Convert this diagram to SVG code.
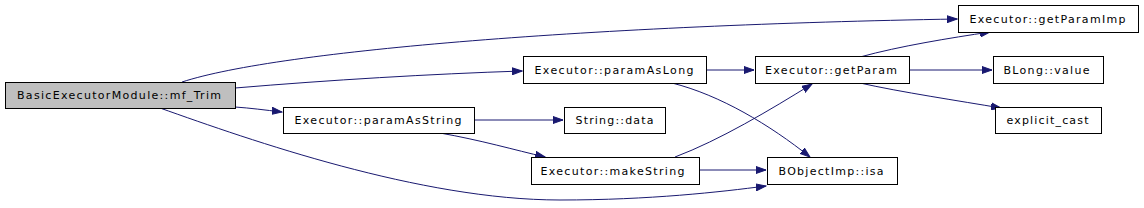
<svg xmlns="http://www.w3.org/2000/svg" width="1144" height="208" viewBox="0 0 1144 208">
<defs>
<marker id="ah" markerUnits="userSpaceOnUse" markerWidth="11" markerHeight="8" refX="10" refY="4" orient="auto">
<polygon points="0,0.5 10,4 0,7.5" fill="#191970" stroke="#191970"/>
</marker>
<style>
.n rect{fill:#ffffff;stroke:#000000;stroke-width:1}
.n.cur rect{fill:#bfbfbf}
.n text{font-family:"DejaVu Sans",sans-serif;font-size:11px;text-anchor:middle;fill:#000000}
.e path{fill:none;stroke:#191970;stroke-width:1;marker-end:url(#ah)}
</style>
</defs>
<rect width="1144" height="208" fill="#ffffff"/>
<g id="edges" class="e">
<path d="M182,82 C280,50 600,25 957,19"/>
<path d="M235,88 C330,80 430,74 522,71"/>
<path d="M235,107 C250,108 265,110 282,112"/>
<path d="M160,108 C250,140 420,200 560,200 C650,200 720,192 766,186"/>
<path d="M474,120 L563,120"/>
<path d="M440,133 C480,140 515,150 545,157"/>
<path d="M707,70 L754,70"/>
<path d="M672,83 C720,95 770,125 810,157"/>
<path d="M675,157 C720,140 770,110 812,84"/>
<path d="M699,170 L766,170"/>
<path d="M860,57 C900,46 950,38 990,32"/>
<path d="M909,70 L992,70"/>
<path d="M860,83 C900,92 960,101 1001,108"/>
</g>
<g id="n_mf_Trim" class="n cur"><rect x="5.5" y="82.5" width="230" height="26"/><text x="119" y="99" textLength="204" lengthAdjust="spacing">BasicExecutorModule::mf_Trim</text></g>
<g id="n_paramAsString" class="n"><rect x="283.5" y="107.5" width="191" height="26"/><text x="378" y="124" textLength="167" lengthAdjust="spacing">Executor::paramAsString</text></g>
<g id="n_paramAsLong" class="n"><rect x="523.5" y="56.5" width="183" height="27"/><text x="614" y="74" textLength="159" lengthAdjust="spacing">Executor::paramAsLong</text></g>
<g id="n_String_data" class="n"><rect x="564.5" y="107.5" width="101" height="26"/><text x="614.5" y="124" textLength="78" lengthAdjust="spacing">String::data</text></g>
<g id="n_makeString" class="n"><rect x="531.5" y="157.5" width="168" height="27"/><text x="612.5" y="175" textLength="144" lengthAdjust="spacing">Executor::makeString</text></g>
<g id="n_getParamImp" class="n"><rect x="958.5" y="5.5" width="180" height="27"/><text x="1047.5" y="23" textLength="156" lengthAdjust="spacing">Executor::getParamImp</text></g>
<g id="n_getParam" class="n"><rect x="755.5" y="56.5" width="154" height="27"/><text x="831" y="74" textLength="132" lengthAdjust="spacing">Executor::getParam</text></g>
<g id="n_BLong_value" class="n"><rect x="993.5" y="56.5" width="110" height="27"/><text x="1046.5" y="74" textLength="86" lengthAdjust="spacing">BLong::value</text></g>
<g id="n_explicit_cast" class="n"><rect x="995.5" y="107.5" width="106" height="26"/><text x="1047.5" y="124" textLength="82" lengthAdjust="spacing">explicit_cast</text></g>
<g id="n_isa" class="n"><rect x="767.5" y="157.5" width="130" height="27"/><text x="831" y="175" textLength="105" lengthAdjust="spacing">BObjectImp::isa</text></g>
</svg>
